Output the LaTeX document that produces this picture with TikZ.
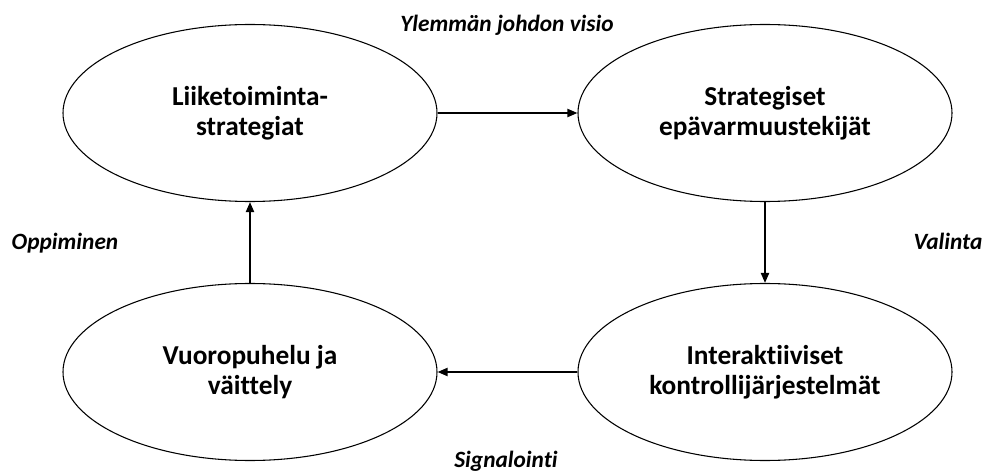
\documentclass[tikz,border=0pt]{standalone}
\usepackage{fontspec}
\setmainfont{Carlito}[Ligatures=NoCommon]
\usetikzlibrary{shapes.geometric,arrows.meta}

\begin{document}
\begin{tikzpicture}[
  x=0.75pt, y=-0.75pt,
  phase/.style={draw, ellipse, line width=0.8pt, minimum width=280.5pt,
    minimum height=132.75pt, align=center,
    font=\fontsize{20.5}{22.5}\selectfont\bfseries},
  flow/.style={-{Triangle[length=7.5pt,width=6pt]}, line width=1.5pt},
  note/.style={anchor=base, font=\fontsize{17.5}{20}\selectfont\bfseries\itshape}
]
  \useasboundingbox (0,0) rectangle (986,474);

  % The four phases
  \node[phase] at (250,113) (strat) {Liiketoiminta-\\strategiat};
  \node[phase] at (765,113) (uncert) {Strategiset\\epävarmuustekijät};
  \node[phase] at (765,372) (ics) {Interaktiiviset\\kontrollijärjestelmät};
  \node[phase] at (250,372) (dialog) {Vuoropuhelu ja\\väittely};

  % Cycle
  \draw[flow] (strat) -- (uncert);
  \draw[flow] (uncert) -- (ics);
  \draw[flow] (ics) -- (dialog);
  \draw[flow] (dialog) -- (strat);

  % Labels (placed by baseline)
  \node[note] at (507,32) (vision) {Ylemmän johdon visio};
  \node[note] at (948,250) (choice) {Valinta};
  \node[note] at (506,467) (signal) {Signalointi};
  \node[note] at (65,250) (learn) {Oppiminen};
\end{tikzpicture}
\end{document}
